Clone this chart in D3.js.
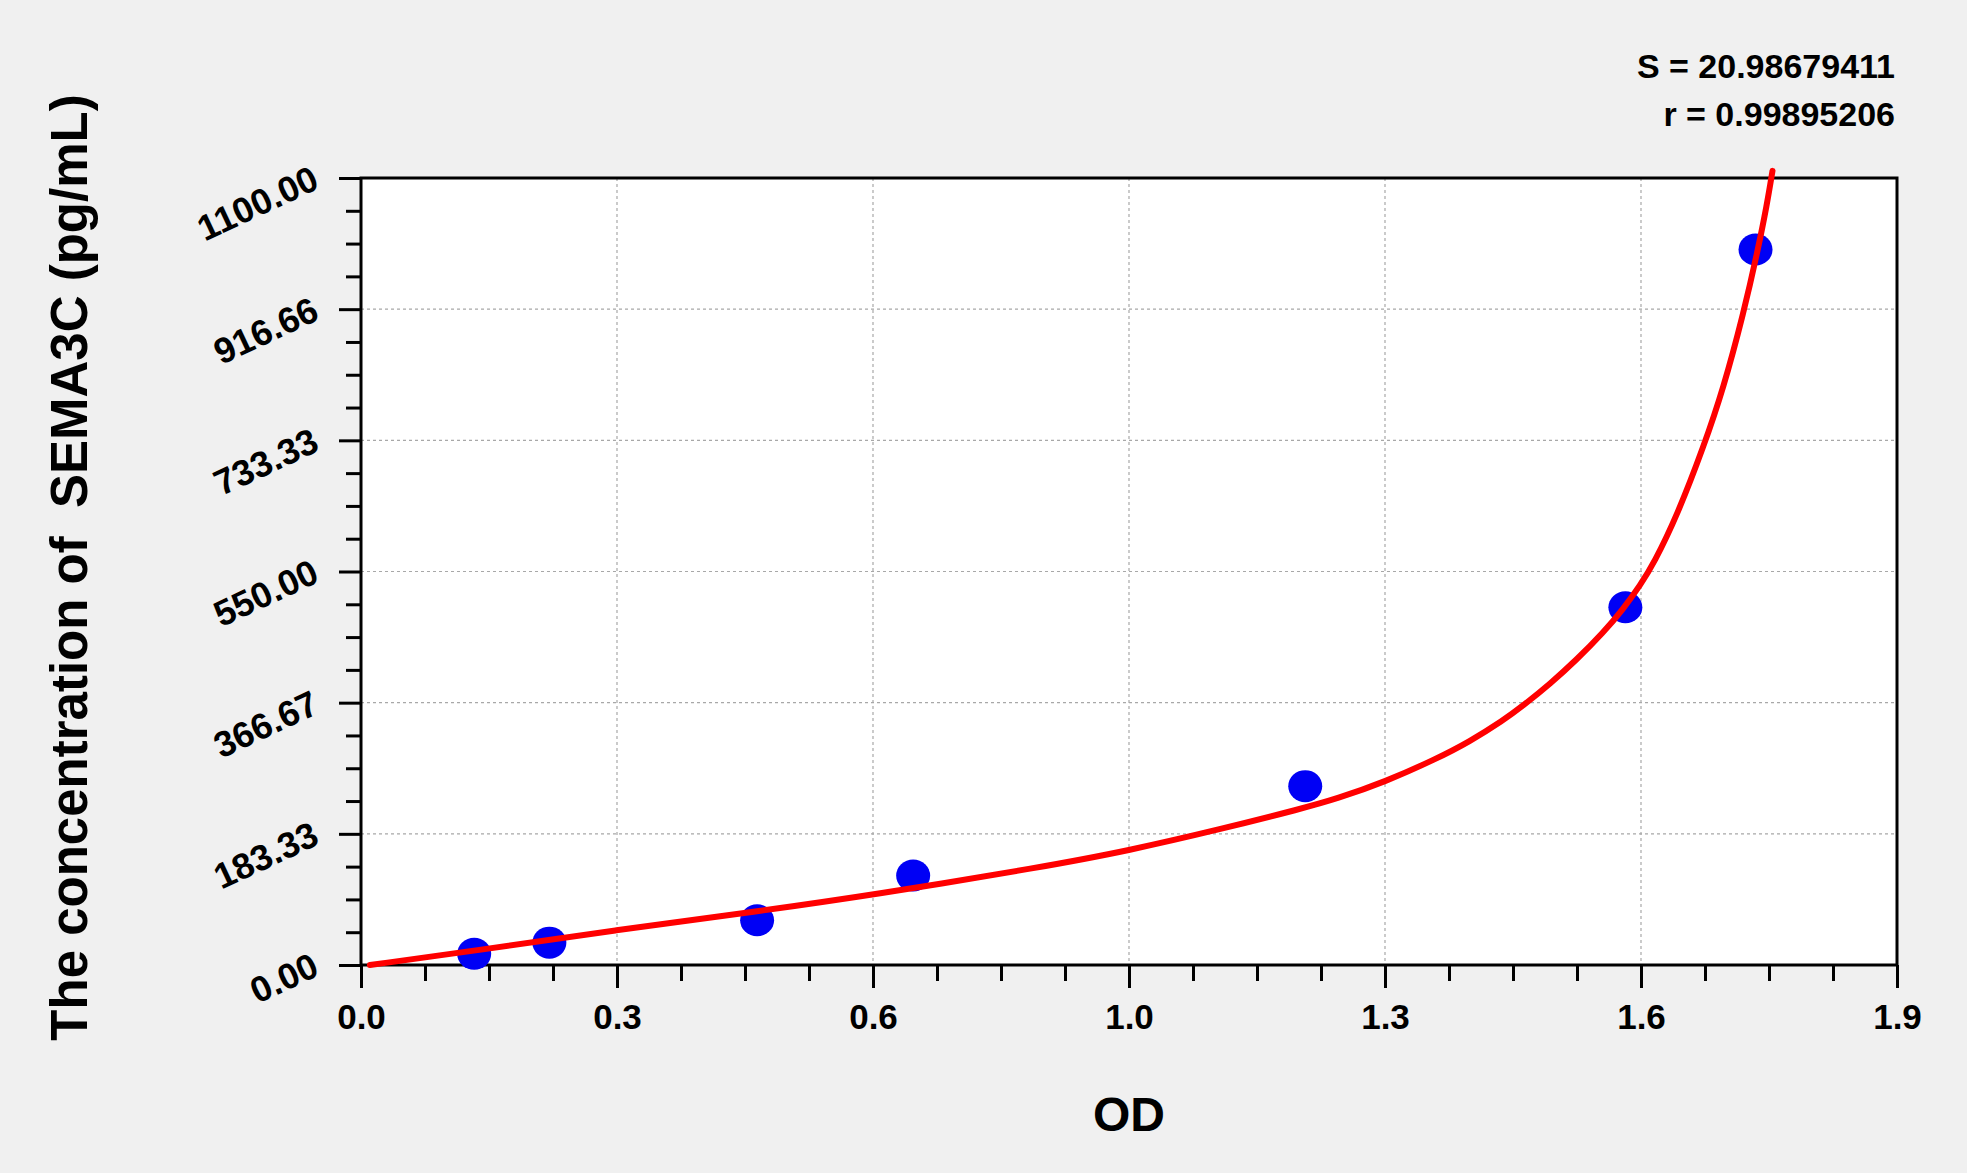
<!DOCTYPE html>
<html>
<head>
<meta charset="utf-8">
<script src="https://cdn.jsdelivr.net/npm/d3@7/dist/d3.min.js"></script>
<style>
  html, body { margin: 0; padding: 0; background: #f0f0f0; }
  svg { display: block; }
  text { font-family: "Liberation Sans", Arial, sans-serif; font-weight: bold; fill: #000; }
</style>
</head>
<body>
<svg id="chart" width="1967" height="1173"></svg>
<script>
// ---- data ----
const odValues   = [0.140, 0.233, 0.490, 0.683, 1.168, 1.564, 1.725];
const concValues = [15.63, 31.25, 62.5, 125, 250, 500, 1000];

// fitted curve
const curveOD   = [0.011, 0.141, 0.316, 0.491, 0.633, 0.843, 0.950, 1.064, 1.165, 1.206, 1.267, 1.330, 1.371, 1.413, 1.437, 1.471, 1.504, 1.537, 1.561, 1.583, 1.599, 1.628, 1.661, 1.685, 1.710, 1.728, 1.739, 1.746];
const curveConc = [0,     20,    49,    75,    98,    137,   160,   190,   219,   232,   256,   288,   312,   342,   362,   393,   427,   465,   497,   532,   561,   628,   725,   805,   910,   1000,  1062,  1110];

const xTickLabels = ["0.0", "0.3", "0.6", "1.0", "1.3", "1.6", "1.9"];
const yTickLabels = ["0.00", "183.33", "366.67", "550.00", "733.33", "916.66", "1100.00"];
const statsLabels = ["S = 20.98679411", "r = 0.99895206"];
const xTitle = "OD";
const yTitle = "The concentration of  SEMA3C (pg/mL)";

const xMax = 1.9, yMax = 1100;

// ---- layout ----
const W = 1967, H = 1173;
const L = 361, R = 1897, T = 178, B = 965;

const svg = d3.select("#chart");
svg.append("rect").attr("width", W).attr("height", H).attr("fill", "#f0f0f0");

const x = d3.scaleLinear().domain([0, xMax]).range([L, R]);
const y = d3.scaleLinear().domain([0, yMax]).range([B, T]);

const xMajor = d3.range(7).map(i => i * xMax / 6);
const yMajor = d3.range(7).map(i => i * yMax / 6);
const xMinor = d3.range(25).map(i => i * xMax / 24).filter((v, i) => i % 4 !== 0);
const yMinor = d3.range(25).map(i => i * yMax / 24).filter((v, i) => i % 4 !== 0);

// plot background
svg.append("rect").attr("x", L).attr("y", T).attr("width", R - L).attr("height", B - T).attr("fill", "#fff");

// grid
const grid = svg.append("g").attr("stroke", "#a8a8a8").attr("stroke-width", 1.2).attr("stroke-dasharray", "3,3");
grid.selectAll("line.v").data(xMajor.slice(1, -1)).join("line")
  .attr("x1", d => x(d)).attr("x2", d => x(d)).attr("y1", T).attr("y2", B);
grid.selectAll("line.h").data(yMajor.slice(1, -1)).join("line")
  .attr("y1", d => y(d)).attr("y2", d => y(d)).attr("x1", L).attr("x2", R);

// axes: major + minor ticks
function styleAxis(g) {
  g.select(".domain").remove();
  g.selectAll(".tick line").attr("stroke", "#000").attr("stroke-width", 3);
}
svg.append("g").attr("transform", `translate(0,${B})`)
  .call(d3.axisBottom(x).tickValues(xMinor).tickSize(16).tickFormat(""))
  .call(styleAxis);
const gx = svg.append("g").attr("transform", `translate(0,${B})`)
  .call(d3.axisBottom(x).tickValues(xMajor).tickSize(23).tickPadding(0).tickFormat((d, i) => xTickLabels[i]))
  .call(styleAxis);
gx.selectAll(".tick text")
  .attr("y", 64).attr("dy", null)
  .style("font-size", "35px").style("font-family", "'Liberation Sans', Arial, sans-serif").style("font-weight", "bold");

svg.append("g").attr("transform", `translate(${L},0)`)
  .call(d3.axisLeft(y).tickValues(yMinor).tickSize(15).tickFormat(""))
  .call(styleAxis);
const gy = svg.append("g").attr("transform", `translate(${L},0)`)
  .call(d3.axisLeft(y).tickValues(yMajor).tickSize(22).tickFormat((d, i) => yTickLabels[i]))
  .call(styleAxis);
gy.selectAll(".tick text")
  .attr("x", null).attr("dy", null)
  .attr("text-anchor", "end")
  .attr("transform", "translate(-40,9) rotate(-25)")
  .style("font-size", "36px").style("font-family", "'Liberation Sans', Arial, sans-serif").style("font-weight", "bold");

// frame
svg.append("rect").attr("x", L).attr("y", T).attr("width", R - L).attr("height", B - T)
  .attr("fill", "none").attr("stroke", "#000").attr("stroke-width", 3);

// points
const pts = odValues.map((v, i) => ({ od: v, c: concValues[i] }));
svg.append("g").selectAll("ellipse").data(pts).join("ellipse")
  .attr("cx", d => x(d.od)).attr("cy", d => y(d.c))
  .attr("rx", 17).attr("ry", 16).attr("fill", "#0000f5");

// fitted curve
const cpts = curveOD.map((v, i) => [v, curveConc[i]]);
svg.append("path").datum(cpts)
  .attr("fill", "none").attr("stroke", "#ff0000").attr("stroke-width", 6)
  .attr("stroke-linecap", "round").attr("stroke-linejoin", "round")
  .attr("d", d3.line().x(d => x(d[0])).y(d => y(d[1])).curve(d3.curveBasis));

// stats text
svg.append("g").selectAll("text").data(statsLabels).join("text")
  .attr("x", 1895).attr("y", (d, i) => 78 + i * 48)
  .attr("text-anchor", "end").style("font-size", "34px")
  .text(d => d);

// axis titles
svg.append("text").attr("x", (L + R) / 2).attr("y", 1131)
  .attr("text-anchor", "middle").style("font-size", "48px").text(xTitle);
svg.append("text").attr("transform", `translate(87,${(T + B) / 2 - 4}) rotate(-90)`)
  .attr("text-anchor", "middle").style("font-size", "51px").style("white-space", "pre")
  .attr("xml:space", "preserve").text(yTitle);
</script>
</body>
</html>
